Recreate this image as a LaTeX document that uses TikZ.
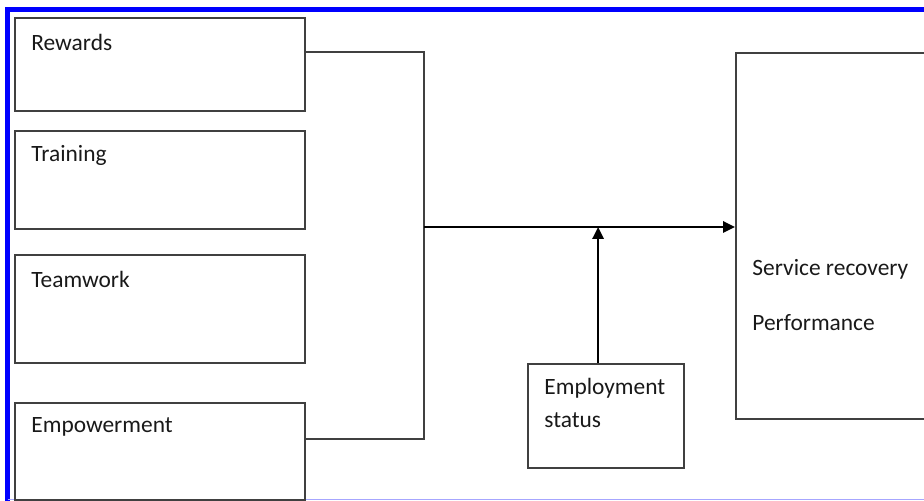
\documentclass[tikz,border=0pt]{standalone}
\usepackage{fontspec}
\setmainfont{Carlito}
\usetikzlibrary{arrows.meta,positioning}

\begin{document}
\begin{tikzpicture}[x=0.5pt,y=-0.5pt,font=\fontsize{11.7}{16.5}\selectfont,text=black!90,
  factor/.style={draw=black!75,line width=1.1pt,minimum width=145pt,inner sep=0pt,anchor=north west},
  lbl/.style={anchor=west,inner sep=0pt,xshift=8.5pt,yshift=-12.5pt},
  lbltwo/.style={anchor=north west,inner sep=0pt,align=left,xshift=8.5pt},
  link/.style={draw=black!75,line width=1.1pt},
  flow/.style={line width=1.3pt,-{Triangle[length=6pt,width=5.6pt]}}]
  \clip (0,0) rectangle (924,501);
  % frame of the scan
  \draw[blue,line width=2.7pt] (7.5,501) -- (7.5,9.5) -- (924,9.5);
  \draw[blue!35,line width=0.6pt] (7.5,499.6) -- (924,499.6);
  % the four practices on the left
  \node[factor,minimum height=46.5pt,label={[lbl]north west:Rewards}] (rew) at (14,17) {};
  \node[factor,minimum height=49pt,label={[lbl]north west:Training}] (trn) at (14,130) {};
  \node[factor,minimum height=54pt,label={[lbl]north west:Teamwork}] (team) at (14,254) {};
  \node[factor,minimum height=48.5pt,label={[lbl]north west:Empowerment}] (emp) at (14,402) {};
  % moderator and outcome
  \node[factor,minimum width=78pt,minimum height=52pt,
    label={[lbltwo,yshift=-7.2pt]north west:Employment\\status}] (status) at (527,363) {};
  \node[factor,minimum width=110pt,minimum height=183pt,
    label={[lbltwo,yshift=-103.7pt]north west:Service recovery\\[11pt]Performance}] (srv) at (735,52) {};
  % bracket joining the practices
  \coordinate (top) at (424,52);
  \coordinate (bot) at (424,439);
  \coordinate (mid) at (424,227);
  \draw[link] (rew.east |- top) -- (top) -- (bot) -- (emp.east |- bot);
  \draw[flow] (mid) -- (srv.west |- mid);
  \draw[flow] ([xshift=-4pt]status.north) -- ([xshift=-4pt]status.north |- mid);
\end{tikzpicture}
\end{document}
